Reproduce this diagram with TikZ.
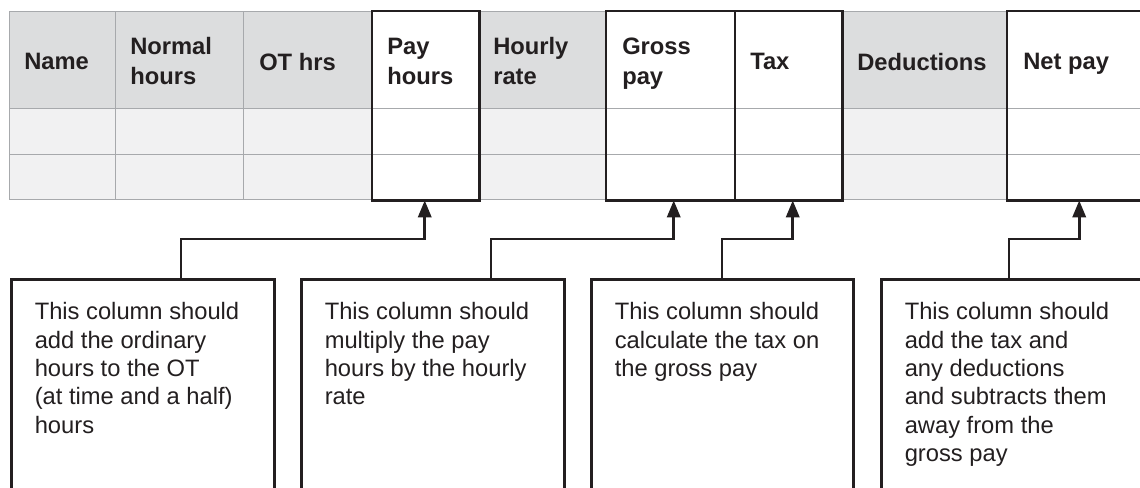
\documentclass[tikz,border=0pt]{standalone}
\usepackage{fontspec}
\setmainfont{Liberation Sans}
\usetikzlibrary{arrows.meta,calc}
\definecolor{ink}{HTML}{231F20}
\definecolor{hdrgrey}{HTML}{DCDDDE}
\definecolor{bodygrey}{HTML}{F1F1F2}
\definecolor{gridgrey}{HTML}{A7A9AC}
\newcommand\hdrfont{\fontsize{17.8}{22.5}\selectfont}
\newcommand\notefont{\fontsize{17.8}{21.2}\selectfont}
\begin{document}
\begin{tikzpicture}[x=0.75pt,y=-0.75pt,
  cw/.style={minimum width=#1*0.75pt},
  ch/.style={minimum height=#1*0.75pt},
  cellbox/.style={draw=gridgrey, line width=1.1pt, inner sep=0pt, anchor=north west},
  hc/.style={cellbox, fill=hdrgrey},
  bc/.style={cellbox, fill=bodygrey},
  wc/.style={cellbox, fill=white},
  thickb/.style={draw=ink, line width=1.9pt},
  hdr/.style={font=\bfseries\hdrfont, text=ink, inner sep=0pt, anchor=north west, align=left},
  callout/.style={draw=ink, line width=2pt, fill=white, inner sep=0pt, anchor=north west, minimum width=#1*0.75pt, minimum height=260*0.75pt},
  note/.style={font=\notefont, text=ink, inner sep=0pt, anchor=north west, align=left},
  conn/.style={draw=ink, line width=2pt, -{Triangle[length=12.75pt,width=10pt]}}
]
\useasboundingbox (0,0) rectangle (1140,488);
\clip (0,0) rectangle (1140,488);
\fill[white] (0,0) rectangle (1140,488);

% header row
\node[hc,cw=106,ch=97] (h1) at (9,11) {};
\node[hc,cw=128,ch=97] (h2) at (115,11) {};
\node[hc,cw=129,ch=97] (h3) at (243,11) {};
\node[wc,cw=106,ch=97] (h4) at (372,11) {};
\node[hc,cw=128,ch=97] (h5) at (478,11) {};
\node[wc,cw=129,ch=97] (h6) at (606,11) {};
\node[wc,cw=106,ch=97] (h7) at (735,11) {};
\node[hc,cw=166,ch=97] (h8) at (841,11) {};
\node[wc,cw=143,ch=97] (h9) at (1007,11) {};
% row 1
\node[bc,cw=106,ch=46] (a1) at (9,108) {};
\node[bc,cw=128,ch=46] (a2) at (115,108) {};
\node[bc,cw=129,ch=46] (a3) at (243,108) {};
\node[wc,cw=106,ch=46] (a4) at (372,108) {};
\node[bc,cw=128,ch=46] (a5) at (478,108) {};
\node[wc,cw=129,ch=46] (a6) at (606,108) {};
\node[wc,cw=106,ch=46] (a7) at (735,108) {};
\node[bc,cw=166,ch=46] (a8) at (841,108) {};
\node[wc,cw=143,ch=46] (a9) at (1007,108) {};
% row 2
\node[bc,cw=106,ch=45] (b1) at (9,154) {};
\node[bc,cw=128,ch=45] (b2) at (115,154) {};
\node[bc,cw=129,ch=45] (b3) at (243,154) {};
\node[wc,cw=106,ch=45] (b4) at (372,154) {};
\node[bc,cw=128,ch=45] (b5) at (478,154) {};
\node[wc,cw=129,ch=45] (b6) at (606,154) {};
\node[wc,cw=106,ch=45] (b7) at (735,154) {};
\node[bc,cw=166,ch=45] (b8) at (841,154) {};
\node[wc,cw=143,ch=45] (b9) at (1007,154) {};

% highlighted columns
\draw[thickb] (h4.north west) rectangle (b4.south east);
\draw[thickb] (h6.north west) rectangle (b7.south east);
\draw[thickb] (h7.north west) -- (b7.south west);
\draw[thickb] (h9.north west) rectangle (b9.south east);

% header texts
\node[hdr] (t1) at ([xshift=15*0.75pt,yshift=-42*0.75pt]h1.north west) {Name};
\node[hdr] (t2) at ([xshift=15*0.75pt,yshift=-26.5*0.75pt]h2.north west) {Normal\\hours};
\node[hdr] (t3) at ([xshift=16*0.75pt,yshift=-42*0.75pt]h3.north west) {OT hrs};
\node[hdr] (t4) at ([xshift=15*0.75pt,yshift=-26.5*0.75pt]h4.north west) {Pay\\hours};
\node[hdr] (t5) at ([xshift=15*0.75pt,yshift=-26.5*0.75pt]h5.north west) {Hourly\\rate};
\node[hdr] (t6) at ([xshift=16*0.75pt,yshift=-26.5*0.75pt]h6.north west) {Gross\\pay};
\node[hdr] (t7) at ([xshift=15*0.75pt,yshift=-42*0.75pt]h7.north west) {Tax};
\node[hdr] (t8) at ([xshift=16*0.75pt,yshift=-42*0.75pt]h8.north west) {Deductions};
\node[hdr] (t9) at ([xshift=16*0.75pt,yshift=-42*0.75pt]h9.north west) {Net pay};

% callout boxes
\node[callout=263] (n1) at (10,278) {};
\node[callout=263] (n2) at (300,278) {};
\node[callout=262] (n3) at (590,278) {};
\node[callout=280] (n4) at (880,278) {};

\node[note] (m1) at ([xshift=24.5*0.75pt,yshift=-24.5*0.75pt]n1.north west)
  {This column should\\add the ordinary\\hours to the OT\\(at time and a half)\\hours};
\node[note] (m2) at ([xshift=24.5*0.75pt,yshift=-24.5*0.75pt]n2.north west)
  {This column should\\multiply the pay\\hours by the hourly\\rate};
\node[note] (m3) at ([xshift=24.5*0.75pt,yshift=-24.5*0.75pt]n3.north west)
  {This column should\\calculate the tax on\\the gross pay};
\node[note] (m4) at ([xshift=24.5*0.75pt,yshift=-24.5*0.75pt]n4.north west)
  {This column should\\add the tax and\\any deductions\\and subtracts them\\away from the\\gross pay};

% connectors
\draw[conn] ([xshift=171*0.75pt]n1.north west) -- ++(0,-39) -| ([xshift=-1*0.75pt]b4.south);
\draw[conn] ([xshift=191*0.75pt]n2.north west) -- ++(0,-39) -| ([xshift=2.5*0.75pt]b6.south);
\draw[conn] ([xshift=132*0.75pt]n3.north west) -- ++(0,-39) -| ([xshift=4*0.75pt]b7.south);
\draw[conn] ([xshift=129*0.75pt]n4.north west) -- ++(0,-39) -| (b9.south);
\end{tikzpicture}
\end{document}
